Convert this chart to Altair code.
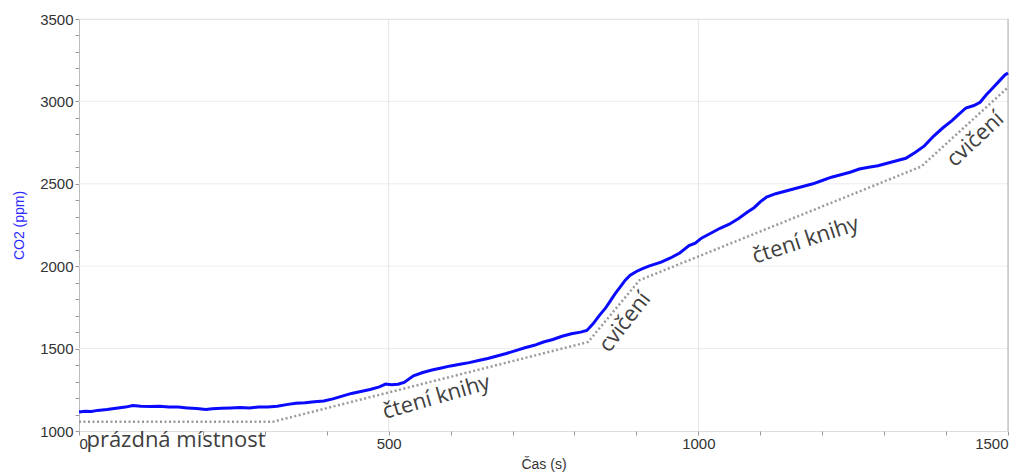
import altair as alt
import pandas as pd

t_s = [0, 10, 20, 30, 45, 60, 75, 87, 100, 115, 130, 145, 160, 175, 190, 205, 215, 230, 245,
       260, 275, 290, 305, 320, 335, 350, 365, 380, 395, 410, 425, 440, 455, 470, 485, 495,
       505, 515, 525, 540, 555, 570, 585, 600, 615, 630, 645, 660, 675, 690, 705, 720, 735,
       750, 765, 780, 795, 810, 820, 830, 840, 850, 858, 866, 874, 882, 890, 900, 910, 920,
       940, 955, 970, 985, 995, 1005, 1020, 1035, 1050, 1065, 1080, 1090, 1100, 1110, 1125,
       1140, 1155, 1170, 1185, 1200, 1215, 1230, 1245, 1260, 1275, 1290, 1305, 1320, 1335,
       1350, 1365, 1380, 1395, 1410, 1420, 1432, 1445, 1455, 1465, 1475, 1485, 1495, 1500]
co2 = [1115, 1120, 1118, 1125, 1130, 1138, 1145, 1155, 1150, 1148, 1150, 1146, 1145, 1140,
       1136, 1130, 1135, 1138, 1140, 1142, 1140, 1146, 1145, 1150, 1160, 1168, 1172, 1178,
       1182, 1195, 1212, 1228, 1240, 1252, 1268, 1285, 1280, 1284, 1295, 1335, 1355, 1370,
       1382, 1395, 1405, 1415, 1428, 1440, 1455, 1470, 1488, 1505, 1520, 1540, 1555, 1575,
       1590, 1600, 1610, 1650, 1700, 1745, 1790, 1835, 1875, 1915, 1945, 1968, 1985, 2000,
       2025, 2050, 2080, 2125, 2140, 2170, 2200, 2230, 2255, 2290, 2330, 2355, 2390, 2420,
       2440, 2455, 2470, 2485, 2500, 2520, 2540, 2555, 2570, 2590, 2600, 2610, 2625, 2640,
       2655, 2690, 2730, 2790, 2840, 2885, 2920, 2960, 2975, 2995, 3040, 3080, 3120, 3160, 3172]

# phase model (dotted line)
phase_t = [0, 313, 822, 905, 1360, 1500]
phase_co2 = [1056, 1056, 1540, 1915, 2605, 3085]

# annotations
ann_text = ["prázdná místnost", "čtení knihy", "cvičení", "čtení knihy", "cvičení"]
ann_t = [12, 577, 881, 1173, 1447]
ann_co2 = [904, 1206, 1662, 2159, 2772]
ann_angle = [0, 344, 308, 342, 317]
ann_align = ["left", "center", "center", "center", "center"]

grid_y = [1500, 2000, 2500, 3000, 3500]
grid_x = [500, 1000]
border_x = [1500]

meas = pd.DataFrame({"t": t_s, "co2": co2})
phase = pd.DataFrame({"t": phase_t, "co2": phase_co2})
ann = pd.DataFrame({"text": ann_text, "t": ann_t, "co2": ann_co2,
                    "angle": ann_angle, "align": ann_align})

xs = alt.Scale(domain=[0, 1500], nice=False, zero=False)
ys = alt.Scale(domain=[1000, 3500], nice=False, zero=False)

label_expr = "datum.value % 500 == 0 ? datum.label : ''"

x_axis = alt.Axis(values=list(range(0, 1501, 100)), labelExpr=label_expr, format="d",
                  grid=False, domain=False, tickSize=4, tickColor="#999",
                  labelFont="Liberation Sans", labelFontSize=15, labelColor="#333",
                  labelOverlap=False, labelPadding=1, title="Čas (s)",
                  titleFont="Liberation Sans", titleFontSize=14, titleFontWeight="normal",
                  titleColor="#333", titlePadding=6)
y_axis = alt.Axis(values=list(range(1000, 3501, 100)), labelExpr=label_expr, format="d",
                  grid=False, domain=True, domainColor="#bbb", tickSize=4, tickColor="#999",
                  labelFont="Liberation Sans", labelFontSize=15, labelColor="#333",
                  labelOverlap=False, labelPadding=2, title="CO2 (ppm)",
                  titleFont="Liberation Sans", titleFontSize=14, titleFontWeight="normal",
                  titleColor="#2b2bff", titlePadding=13)


def X(field):
    return alt.X(field, scale=xs, axis=x_axis)


def Y(field):
    return alt.Y(field, scale=ys, axis=y_axis)


hgrid = alt.Chart(pd.DataFrame({"g": grid_y})).mark_rule(color="#ececec", strokeWidth=1).encode(
    y=Y("g:Q"))
vgrid = alt.Chart(pd.DataFrame({"g": grid_x})).mark_rule(color="#e4e4e4", strokeWidth=1).encode(
    x=X("g:Q"))
border = alt.Chart(pd.DataFrame({"g": border_x})).mark_rule(color="#c8c8c8", strokeWidth=1.5).encode(
    x=X("g:Q"))

phase_line = alt.Chart(phase).mark_line(color="#9a9a9a", strokeWidth=2.5, strokeDash=[2, 2.5]).encode(
    x=X("t:Q"), y=Y("co2:Q"))
meas_line = alt.Chart(meas).mark_line(color="#0a0aff", strokeWidth=3).encode(
    x=X("t:Q"), y=Y("co2:Q"))

texts_left = alt.Chart(ann[ann["align"] == "left"]).mark_text(
    font="Open Sans", fontSize=22, color="#404040", align="left", baseline="alphabetic").encode(
    x=X("t:Q"), y=Y("co2:Q"), text="text:N")
texts_rot = alt.Chart(ann[ann["align"] == "center"]).mark_text(
    font="Open Sans", fontSize=22, color="#404040", align="center", baseline="middle").encode(
    x=X("t:Q"), y=Y("co2:Q"), text="text:N",
    angle=alt.Angle("angle:Q", scale=None))

chart = alt.layer(hgrid, vgrid, border, phase_line, meas_line, texts_left, texts_rot).properties(
    width=929, height=412,
    autosize=alt.AutoSizeParams(type="none"),
    padding={"left": 71, "top": 11, "right": 9, "bottom": 43},
).configure_view(stroke=None).configure_axis(
    labelFont="Liberation Sans", labelFontSize=15, labelColor="#333", labelOverlap=False
).configure(background="white")

chart.save("out.html", embed_options={"renderer": "svg", "actions": False})
